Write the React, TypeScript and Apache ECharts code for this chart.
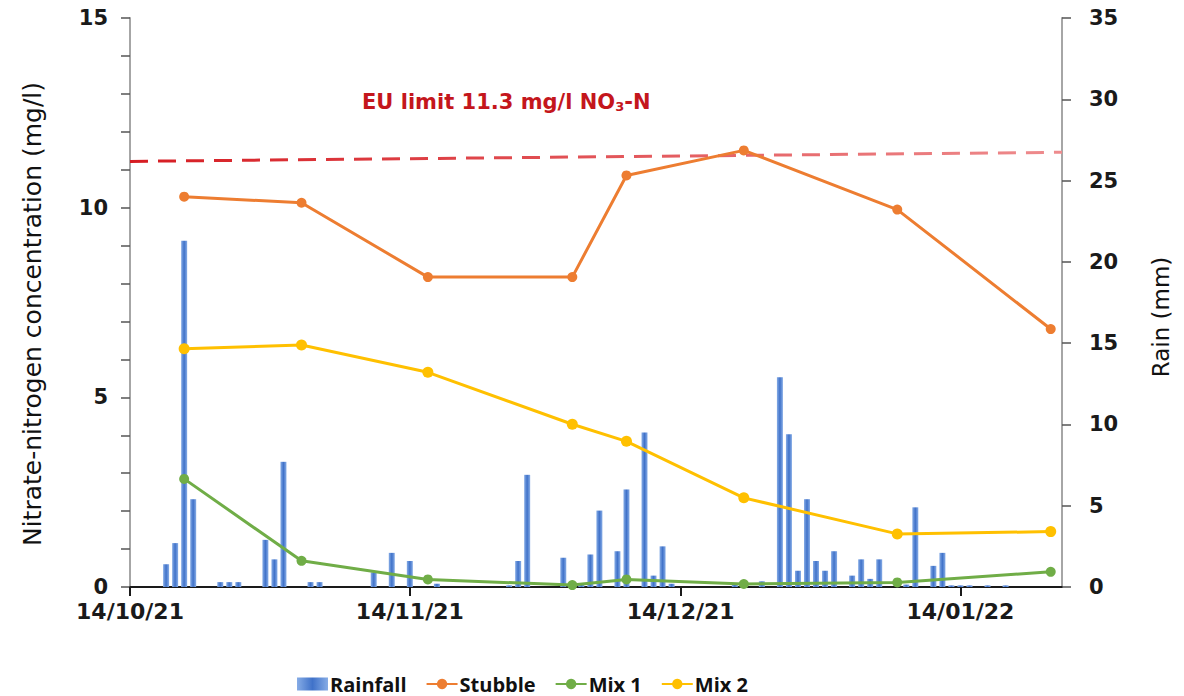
import React, { useEffect, useRef } from 'react';
import * as echarts from 'echarts';

// ---- axis range / ticks ----
const startDate = '2021-10-14';
const endDate = '2022-01-25';
const tickDates = ['2021-10-14', '2021-11-14', '2021-12-14', '2022-01-14'];
const tickLabels = ['14/10/21', '14/11/21', '14/12/21', '14/01/22'];

// ---- rainfall (mm) ----
const rainDates = [
  '2021-10-18', '2021-10-19', '2021-10-20', '2021-10-21', '2021-10-24', '2021-10-25', '2021-10-26',
  '2021-10-29', '2021-10-30', '2021-10-31', '2021-11-03', '2021-11-04', '2021-11-10', '2021-11-12',
  '2021-11-14', '2021-11-17', '2021-11-25', '2021-11-26', '2021-11-27', '2021-12-01', '2021-12-03',
  '2021-12-04', '2021-12-05', '2021-12-07', '2021-12-08', '2021-12-10', '2021-12-11', '2021-12-12',
  '2021-12-13', '2021-12-20', '2021-12-23', '2021-12-25', '2021-12-26', '2021-12-27', '2021-12-28',
  '2021-12-29', '2021-12-30', '2021-12-31', '2022-01-02', '2022-01-03', '2022-01-04', '2022-01-05',
  '2022-01-08', '2022-01-09', '2022-01-11', '2022-01-12', '2022-01-13', '2022-01-14', '2022-01-15',
  '2022-01-17', '2022-01-19',
];
const rainMm = [
  1.4, 2.7, 21.3, 5.4, 0.3, 0.3, 0.3,
  2.9, 1.7, 7.7, 0.3, 0.3, 0.9, 2.1,
  1.6, 0.2, 0.1, 1.6, 6.9, 1.8, 0.2,
  2.0, 4.7, 2.2, 6.0, 9.5, 0.7, 2.5,
  0.2, 0.2, 0.35, 12.9, 9.4, 1.0, 5.4,
  1.6, 1.0, 2.2, 0.7, 1.7, 0.5, 1.7,
  0.15, 4.9, 1.3, 2.1, 0.1, 0.1, 0.1,
  0.1, 0.1,
];

// ---- nitrate-nitrogen concentration (mg/l) ----
const sampleDates = ['2021-10-20', '2021-11-02', '2021-11-16', '2021-12-02', '2021-12-08', '2021-12-21', '2022-01-07', '2022-01-24'];
const stubble = [10.29, 10.13, 8.17, 8.17, 10.85, 11.51, 9.95, 6.8];
const mix1 = [2.85, 0.69, 0.2, 0.05, 0.2, 0.08, 0.12, 0.4];
const mix2 = [6.28, 6.38, 5.66, 4.29, 3.84, 2.35, 1.4, 1.46];

// ---- EU limit line ----
const euLimitStart = 11.22;
const euLimitEnd = 11.46;

const DAY = 86400000;
const t0 = Date.parse(startDate + 'T00:00:00Z');
const day = (s: string) => (Date.parse(s + 'T00:00:00Z') - t0) / DAY;

export default function App() {
  const ref = useRef<HTMLDivElement>(null);

  useEffect(() => {
    if (!ref.current) return;
    const chart = echarts.init(ref.current, null, { renderer: 'svg' });
    const xMax = day(endDate) + 0.25;
    const tickDays = tickDates.map(day);
    const labelFor = (v: number) => {
      const i = tickDays.findIndex((d) => Math.abs(d - v) < 0.01);
      return i >= 0 ? tickLabels[i] : '';
    };
    const tickFont = { fontFamily: 'DejaVu Sans', fontWeight: 'bold' as const, fontSize: 21, lineHeight: 18, color: '#1a1a1a' };

    const barColor = new echarts.graphic.LinearGradient(0, 0, 1, 0, [
      { offset: 0, color: '#86ace6' },
      { offset: 0.5, color: '#4072c9' },
      { offset: 1, color: '#86ace6' },
    ]);

    const lineSeries = (name: string, vals: number[], color: string, size: number, extra: any = {}) => ({
      name,
      type: 'line',
      xAxisIndex: 0,
      yAxisIndex: 0,
      data: sampleDates.map((d, i) => [day(d), vals[i]]),
      symbol: 'circle',
      symbolSize: size,
      lineStyle: { width: 3, color },
      itemStyle: { color },
      z: 5,
      ...extra,
    });

    chart.setOption({
      animation: false,
      grid: { left: 130, right: 122, top: 18, bottom: 109, containLabel: false },
      legend: {
        data: [{ name: 'Rainfall', icon: 'rect' }, 'Stubble', 'Mix 1', 'Mix 2'],
        left: 292,
        top: 669,
        itemWidth: 31,
        itemHeight: 13,
        itemGap: 19,
        textStyle: { fontFamily: 'Open Sans', fontWeight: 'bold', fontSize: 20, color: '#111', padding: [0, 0, 0, -3] },
      },
      xAxis: {
        type: 'value',
        min: 0,
        max: xMax,
        splitLine: { show: false },
        axisLine: { onZero: false, lineStyle: { color: '#1a1a1a', width: 2 } },
        axisTick: { show: true, customValues: tickDays, length: 9, lineStyle: { color: '#1a1a1a', width: 2 } },
        axisLabel: { customValues: tickDays, formatter: (v: number) => labelFor(v), margin: 15, ...tickFont, fontSize: 22 },
      },
      yAxis: [
        {
          type: 'value',
          min: 0,
          max: 15,
          interval: 5,
          splitLine: { show: false },
          axisLine: { show: true, lineStyle: { color: '#a6a6a6', width: 2 } },
          axisTick: { show: true, length: 9, lineStyle: { color: '#555', width: 1.5 } },
          minorTick: { show: true, splitNumber: 5, length: 9, lineStyle: { color: '#555', width: 1.5 } },
          minorSplitLine: { show: false },
          axisLabel: { margin: 22, ...tickFont },
        },
        {
          type: 'value',
          min: 0,
          max: 35,
          interval: 5,
          position: 'right',
          splitLine: { show: false },
          axisLine: { show: true, lineStyle: { color: '#a6a6a6', width: 2 } },
          axisTick: { show: true, length: 9, lineStyle: { color: '#555', width: 1.5 } },
          axisLabel: { margin: 27, ...tickFont },
        },
      ],
      series: [
        {
          name: 'Rainfall',
          type: 'bar',
          xAxisIndex: 0,
          yAxisIndex: 1,
          barWidth: 6,
          data: rainDates.map((d, i) => [day(d), rainMm[i]]),
          itemStyle: { color: barColor },
          z: 2,
        },
        lineSeries('Stubble', stubble, '#ED7D31', 10, {
          markLine: {
            silent: true,
            symbol: ['none', 'none'],
            label: { show: false },
            lineStyle: {
              type: [18, 10],
              width: 3,
              color: new echarts.graphic.LinearGradient(0, 0, 1, 0, [
                { offset: 0, color: '#d61c22' },
                { offset: 1, color: '#ee8c8e' },
              ]),
            },
            data: [[{ coord: [0, euLimitStart] }, { coord: [xMax, euLimitEnd] }]],
          },
        }),
        lineSeries('Mix 1', mix1, '#70AD47', 10),
        lineSeries('Mix 2', mix2, '#FFC000', 11),
      ],
      graphic: [
        {
          type: 'text',
          left: 362,
          top: 91,
          style: {
            text: 'EU limit 11.3 mg/l NO{sub|3}-N',
            fill: '#c4161c',
            fontFamily: 'DejaVu Sans',
            fontWeight: 'bold',
            fontSize: 21,
            rich: {
              sub: { fontFamily: 'DejaVu Sans', fontWeight: 'bold', fontSize: 13, fill: '#c4161c', verticalAlign: 'bottom', padding: [9, 0, 0, 0] },
            },
          },
        },
        {
          type: 'text',
          x: 32,
          y: 314,
          rotation: Math.PI / 2,
          style: {
            text: 'Nitrate-nitrogen concentration (mg/l)',
            fill: '#111',
            fontFamily: 'DejaVu Sans',
            fontSize: 25,
            align: 'center',
            verticalAlign: 'middle',
          },
        },
        {
          type: 'text',
          x: 1161,
          y: 317,
          rotation: Math.PI / 2,
          style: {
            text: 'Rain (mm)',
            fill: '#111',
            fontFamily: 'DejaVu Sans',
            fontSize: 23,
            align: 'center',
            verticalAlign: 'middle',
          },
        },
      ],
    });
    return () => chart.dispose();
  }, []);

  return <div ref={ref} style={{ position: 'fixed', left: 0, top: 0, width: 1184, height: 696, background: '#fff' }} />;
}
